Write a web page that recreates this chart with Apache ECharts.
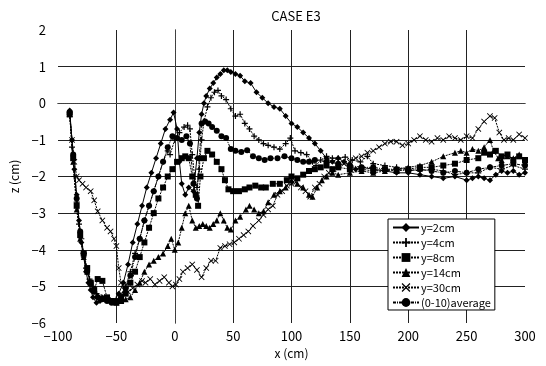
<!DOCTYPE html>
<html><head><meta charset="utf-8">
<script src="https://cdn.jsdelivr.net/npm/echarts@6/dist/echarts.min.js"></script>
<style>html,body{margin:0;padding:0;background:#fff}#c{width:546px;height:366px}</style>
</head><body><div id="c"></div>
<script>
// ---- data (x in cm, z in cm) ----
const titleText = "CASE E3";
const seriesNames = ["y=2cm","y=4cm","y=8cm","y=14cm","y=30cm","(0-10)average"];
const xTicks = [-100,-50,0,50,100,150,200,250,300];
const zTicks = [-6,-5,-4,-3,-2,-1,0,1,2];

const xA = [-90,-88,-86,-84,-82,-80,-78,-76,-74,-72,-70,-67,-64,-60,-56,-52,-48,-44,-40,-36,-32,-28,-24,-20,-16,-12,-8,-4,-1,2,4,6,9,12,16,19,21,23,25,27,30,33,36,39,42,45,48,52,56,60,65,70,75,80,85,90,95,100,105,110,115,120,125,130,135,140,145,150,155,160,170,180,190,200,210,220,230,240,250,255,260,265,270,275,280,285,290,295,300];
const zA = [-0.2,-1.0,-1.8,-2.5,-3.2,-3.8,-4.2,-4.6,-4.9,-5.1,-5.3,-5.45,-5.4,-5.3,-5.35,-5.4,-5.2,-4.9,-4.4,-3.8,-3.3,-2.8,-2.3,-1.9,-1.5,-1.1,-0.7,-0.45,-0.25,-0.7,-1.6,-2.2,-2.5,-2.3,-2.4,-1.5,-0.8,-0.3,0.0,0.2,0.4,0.55,0.7,0.8,0.9,0.9,0.85,0.8,0.75,0.6,0.55,0.3,0.15,0.0,-0.1,-0.15,-0.35,-0.55,-0.65,-0.8,-0.95,-1.1,-1.3,-1.5,-1.6,-1.5,-1.6,-1.7,-1.8,-1.75,-1.8,-1.85,-1.9,-1.9,-1.95,-2.0,-2.05,-2.0,-2.1,-2.05,-2.0,-2.05,-2.1,-1.95,-1.85,-1.9,-1.85,-1.95,-1.9];

const xB = [-90,-88,-86,-84,-82,-80,-78,-76,-73,-70,-67,-63,-58,-54,-50,-46,-42,-38,-34,-30,-26,-22,-18,-14,-10,-6,-4,0,4,8,11,13,15,17,19,21,23,25,28,31,34,37,40,44,48,52,56,60,64,68,72,76,80,85,90,95,99,103,108,113,118,121,125,130,135,140,146,152,159,165,170,180,190,200,210,220,230,240,250,260,270,280,290,300];
const zB = [-0.3,-1.2,-2.0,-2.7,-3.3,-3.7,-4.1,-4.5,-4.8,-5.0,-5.2,-5.3,-5.35,-5.4,-5.35,-5.25,-5.0,-4.6,-4.1,-3.7,-3.2,-2.8,-2.4,-2.0,-1.6,-1.3,-1.4,-1.0,-0.8,-0.65,-0.6,-0.7,-1.4,-2.0,-2.3,-1.8,-1.0,-0.5,-0.1,0.15,0.3,0.35,0.2,0.1,-0.15,-0.35,-0.3,-0.55,-0.7,-0.9,-1.0,-1.1,-1.15,-1.2,-1.25,-1.1,-0.95,-1.3,-1.35,-1.4,-1.6,-1.7,-1.55,-1.45,-1.5,-1.5,-1.47,-1.55,-1.6,-1.45,-1.65,-1.7,-1.75,-1.8,-1.85,-1.8,-1.85,-1.95,-1.9,-1.9,-1.75,-1.8,-1.7,-1.8];

const xC = [-90,-87,-84,-81,-78,-75,-72,-69,-66,-62,-58,-54,-50,-46,-42,-38,-34,-30,-26,-22,-18,-14,-10,-6,-2,2,6,9,12,15,18,20,22,25,28,32,36,40,43,46,50,55,60,64,69,74,78,84,90,96,100,105,110,115,120,125,130,135,140,150,160,170,180,190,200,210,220,230,240,250,260,265,270,275,280,285,290,295,300];
const zC = [-0.3,-1.5,-2.8,-3.6,-4.1,-4.5,-4.9,-5.1,-4.8,-4.85,-5.3,-5.4,-5.45,-5.4,-5.2,-4.9,-4.6,-4.2,-3.8,-3.4,-3.0,-2.6,-2.3,-2.0,-1.8,-1.6,-1.5,-1.45,-1.5,-2.0,-2.5,-2.8,-2.0,-1.5,-1.3,-1.4,-1.6,-1.8,-2.1,-2.35,-2.4,-2.4,-2.35,-2.3,-2.25,-2.3,-2.3,-2.2,-2.2,-2.1,-2.0,-2.05,-1.95,-1.85,-1.8,-1.75,-1.7,-1.8,-1.75,-1.8,-1.8,-1.85,-1.8,-1.85,-1.8,-1.75,-1.75,-1.7,-1.65,-1.55,-1.5,-1.35,-1.4,-1.3,-1.45,-1.4,-1.55,-1.45,-1.55];

const xD = [-90,-87,-84,-81,-78,-75,-72,-69,-66,-62,-58,-54,-50,-46,-42,-38,-34,-30,-26,-22,-18,-14,-10,-6,-3,0,3,6,9,12,15,18,21,24,27,30,33,36,39,42,45,48,52,56,61,64,68,72,76,80,85,90,95,100,105,110,115,118,122,126,130,135,140,150,160,170,180,190,200,210,220,230,240,245,250,255,260,265,270,273,277,280,285,290,295,300];
const zD = [-0.3,-1.6,-2.9,-3.7,-4.2,-4.6,-4.9,-5.1,-5.25,-5.3,-5.35,-5.4,-5.4,-5.4,-5.35,-5.3,-5.1,-4.9,-4.6,-4.4,-4.3,-4.2,-4.1,-3.9,-3.7,-4.0,-3.8,-3.4,-3.0,-2.8,-3.2,-3.4,-3.35,-3.3,-3.35,-3.4,-3.3,-3.2,-3.0,-3.2,-3.4,-3.45,-3.2,-3.1,-2.9,-2.8,-2.9,-3.0,-2.95,-2.7,-2.5,-2.4,-2.3,-2.1,-2.2,-2.3,-2.5,-2.55,-2.3,-2.1,-2.0,-1.9,-1.95,-1.9,-1.85,-1.9,-1.85,-1.8,-1.75,-1.7,-1.6,-1.45,-1.35,-1.3,-1.35,-1.25,-1.3,-1.2,-1.0,-1.3,-1.5,-1.55,-1.45,-1.5,-1.4,-1.6];

const xE = [-90,-88,-86,-84,-82,-79,-76,-72,-69,-66,-62,-58,-55,-52,-50,-48,-46,-43,-40,-36,-32,-28,-25,-21,-17,-13,-9,-5,-2,1,4,7,11,15,19,23,27,31,35,39,43,47,51,55,59,63,67,72,76,80,84,88,92,96,100,104,108,112,116,120,124,128,132,136,140,145,150,155,160,165,170,175,180,185,190,195,200,205,210,215,220,225,230,235,240,245,250,255,260,265,270,274,278,282,286,290,295,300];
const zE = [-0.3,-1.0,-1.6,-2.0,-2.1,-2.2,-2.3,-2.4,-2.65,-2.95,-3.2,-3.4,-3.5,-3.7,-3.9,-4.5,-4.9,-5.1,-5.15,-5.05,-4.95,-4.85,-4.9,-4.8,-4.95,-4.85,-4.75,-4.9,-5.0,-4.95,-4.8,-4.6,-4.5,-4.4,-4.55,-4.75,-4.5,-4.3,-4.3,-3.95,-3.9,-3.85,-3.8,-3.7,-3.6,-3.5,-3.35,-3.2,-3.05,-2.9,-2.8,-2.5,-2.4,-2.25,-2.2,-2.15,-2.3,-2.4,-2.55,-2.3,-2.2,-2.0,-1.9,-1.8,-1.7,-1.65,-1.6,-1.5,-1.45,-1.35,-1.3,-1.2,-1.1,-1.05,-1.05,-1.15,-1.1,-1.0,-0.9,-1.0,-1.05,-0.95,-1.0,-0.9,-0.95,-1.0,-0.9,-0.95,-0.7,-0.5,-0.35,-0.4,-0.8,-1.0,-0.95,-1.0,-0.85,-0.95];

const xF = [-90,-87,-84,-81,-78,-75,-72,-69,-66,-62,-58,-54,-50,-46,-42,-38,-34,-30,-26,-22,-18,-14,-10,-6,-2,2,6,10,13,16,19,21,23,26,29,32,36,40,44,48,52,57,62,67,72,77,82,88,94,100,105,110,115,120,130,140,150,160,170,180,190,200,210,220,230,240,250,260,270,280,290,300];
const zF = [-0.25,-1.4,-2.6,-3.5,-4.1,-4.6,-4.9,-5.15,-5.3,-5.35,-5.4,-5.45,-5.4,-5.3,-5.05,-4.7,-4.2,-3.7,-3.2,-2.8,-2.4,-2.0,-1.6,-1.2,-0.9,-0.95,-1.0,-0.9,-1.1,-2.2,-2.6,-1.5,-0.55,-0.5,-0.55,-0.65,-0.75,-0.9,-0.95,-1.25,-1.3,-1.33,-1.28,-1.45,-1.5,-1.55,-1.5,-1.5,-1.45,-1.5,-1.55,-1.6,-1.6,-1.55,-1.6,-1.65,-1.7,-1.75,-1.75,-1.8,-1.8,-1.85,-1.8,-1.85,-1.9,-1.85,-1.9,-1.8,-1.75,-1.7,-1.65,-1.7];

// ---- build ----
const zip = (xs, zs) => xs.map((x, i) => [x, zs[i]]);
const plusPath = 'path://M4,0h2v4h4v2h-4v4h-2v-4h-4v-2h4z';
const crossPath = 'path://M1,0L5,4L9,0L10,1L6,5L10,9L9,10L5,6L1,10L0,9L4,5L0,1z';
const seriesDefs = [
  {x: xA, z: zA, symbol: 'diamond', size: 6, dash: 'solid'},
  {x: xB, z: zB, symbol: plusPath, size: 6, dash: [2, 1]},
  {x: xC, z: zC, symbol: 'rect', size: 6, dash: [2, 1]},
  {x: xD, z: zD, symbol: 'triangle', size: 6, dash: [2, 1]},
  {x: xE, z: zE, symbol: crossPath, size: 6, dash: [2, 1]},
  {x: xF, z: zF, symbol: 'circle', size: 6, dash: [3, 1, 1, 1]}
];

const chart = echarts.init(document.getElementById('c'), null, {renderer: 'canvas'});
const font = '"Noto Sans CJK JP", "Liberation Sans", sans-serif';
const minus = v => String(v).replace('-', '\u2212');
const gridLine = {show: true, lineStyle: {color: '#222', width: 1}, showMinLine: false, showMaxLine: false};
const borderLine = {show: true, lineStyle: {color: '#444', width: 1, type: [1, 1]}};
chart.setOption({
  animation: false,
  backgroundColor: '#fff',
  title: {text: titleText, left: 291, textAlign: 'center', top: 5,
    textStyle: {fontFamily: font, fontSize: 13, fontWeight: 'normal', color: '#000'}},
  grid: {left: 58, right: 21, top: 30, bottom: 43},
  legend: {
    orient: 'vertical', left: 388, top: 219, padding: [3, 4, 2, 4],
    width: 109, itemGap: 4, itemWidth: 26, itemHeight: 11,
    backgroundColor: '#fff', borderColor: '#000', borderWidth: 1, borderRadius: 0,
    textStyle: {fontFamily: font, fontSize: 11, color: '#000', padding: [0, 0, 0, -3]},
    data: seriesNames
  },
  xAxis: [{
    type: 'value', min: xTicks[0], max: xTicks[xTicks.length - 1], interval: 50,
    name: 'x (cm)', nameLocation: 'middle', nameGap: 24,
    nameTextStyle: {fontFamily: font, fontSize: 12, color: '#000'},
    axisLine: borderLine, axisTick: {show: false},
    axisLabel: {fontFamily: font, fontSize: 13, color: '#000', margin: 7, formatter: minus},
    splitLine: gridLine
  }, {
    type: 'value', position: 'top', min: xTicks[0], max: xTicks[xTicks.length - 1], interval: 50,
    axisLine: borderLine, axisTick: {show: false}, axisLabel: {show: false}, splitLine: {show: false}
  }],
  yAxis: [{
    type: 'value', min: zTicks[0], max: zTicks[zTicks.length - 1], interval: 1,
    name: 'z (cm)', nameLocation: 'middle', nameGap: 32, nameRotate: 90,
    nameTextStyle: {fontFamily: font, fontSize: 12, color: '#000'},
    axisLine: borderLine, axisTick: {show: false},
    axisLabel: {fontFamily: font, fontSize: 13, color: '#000', margin: 12, formatter: minus},
    splitLine: gridLine
  }, {
    type: 'value', position: 'right', min: zTicks[0], max: zTicks[zTicks.length - 1], interval: 1,
    axisLine: borderLine, axisTick: {show: false}, axisLabel: {show: false}, splitLine: {show: false}
  }],
  series: seriesDefs.map((d, i) => ({
    name: seriesNames[i], type: 'line', data: zip(d.x, d.z),
    symbol: d.symbol, symbolSize: d.size, showSymbol: true,
    itemStyle: {color: '#000'},
    lineStyle: {color: '#000', width: 1, type: d.dash}
  }))
});
</script></body></html>
